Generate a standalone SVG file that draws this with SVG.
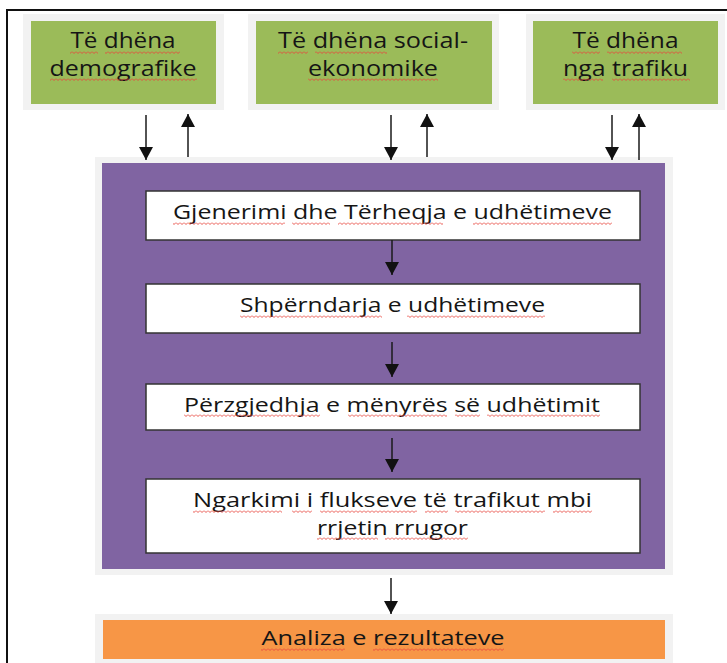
<svg xmlns="http://www.w3.org/2000/svg" width="727" height="663" viewBox="0 0 727 663">
<style>
.halo{fill:#F2F2F2}
.green{fill:#9BBB59}
.purple{fill:#8064A2}
.orange{fill:#F79646}
.wbox{fill:#FFFFFF;stroke:#333333;stroke-width:1.5}
.t{font-family:"Open Sans","Liberation Sans",sans-serif;fill:#151515;text-anchor:middle}
.tg{font-size:21.5px}
.tw{font-size:20px}
.sq{fill:url(#squig)}
.conn line{stroke:#1a1a1a;stroke-width:1.5;fill:none}
</style>
<defs>
<pattern id="squig" patternUnits="userSpaceOnUse" width="4" height="3">
<path d="M0 0.5 L2 2.5 L4 0.5" fill="none" stroke="#E8453C" stroke-width="0.9"/>
</pattern>
<marker id="ah" markerUnits="userSpaceOnUse" markerWidth="14" markerHeight="14" viewBox="0 0 14 14" refX="13" refY="7" orient="auto">
<path d="M0 0 L13 7 L0 14 Z" fill="#111"/>
</marker>
</defs>
<rect width="727" height="663" fill="#FFFFFF"/>
<path d="M7 670 V10 H735" fill="none" stroke="#111" stroke-width="2"/>

<g id="demografike">
<rect class="halo" x="23" y="14" width="201" height="96"/>
<rect class="green" x="31" y="21" width="185" height="83"/>
<text class="t tg" x="123" y="48" textLength="105" lengthAdjust="spacingAndGlyphs">Të dhëna</text>
<text class="t tg" x="123" y="76" textLength="147" lengthAdjust="spacingAndGlyphs">demografike</text>
<rect class="sq" x="70" y="51" width="28" height="3"/>
<rect class="sq" x="105" y="51" width="75" height="3"/>
<rect class="sq" x="50" y="78" width="147" height="3"/>
</g>

<g id="socialekonomike">
<rect class="halo" x="248" y="14" width="251" height="96"/>
<rect class="green" x="256" y="21" width="236" height="83"/>
<text class="t tg" x="373" y="48" textLength="190" lengthAdjust="spacingAndGlyphs">Të dhëna social-</text>
<text class="t tg" x="373" y="76" textLength="130" lengthAdjust="spacingAndGlyphs">ekonomike</text>
<rect class="sq" x="278" y="51" width="30" height="3"/>
<rect class="sq" x="315" y="51" width="72" height="3"/>
<rect class="sq" x="308" y="78" width="130" height="3"/>
</g>

<g id="trafiku">
<rect class="halo" x="526" y="14" width="199" height="96"/>
<rect class="green" x="533" y="21" width="185" height="83"/>
<text class="t tg" x="625.5" y="48" textLength="106" lengthAdjust="spacingAndGlyphs">Të dhëna</text>
<text class="t tg" x="625.5" y="76" textLength="125" lengthAdjust="spacingAndGlyphs">nga trafiku</text>
<rect class="sq" x="572" y="51" width="28" height="3"/>
<rect class="sq" x="607" y="51" width="75" height="3"/>
<rect class="sq" x="563" y="78" width="40" height="3"/>
<rect class="sq" x="612" y="78" width="78" height="3"/>
</g>

<g id="modeli">
<rect class="halo" x="95" y="157" width="578" height="418"/>
<rect class="purple" x="102" y="163" width="563" height="406"/>
</g>

<g id="gjenerimi">
<rect class="wbox" x="146" y="191" width="494" height="49"/>
<text class="t tw" x="392.5" y="219" textLength="439" lengthAdjust="spacingAndGlyphs">Gjenerimi dhe Tërheqja e udhëtimeve</text>
<rect class="sq" x="173" y="222" width="112" height="3"/>
<rect class="sq" x="292" y="222" width="38" height="3"/>
<rect class="sq" x="338" y="222" width="105" height="3"/>
<rect class="sq" x="473" y="222" width="139" height="3"/>
</g>

<g id="shperndarja">
<rect class="wbox" x="146" y="284" width="494" height="49"/>
<text class="t tw" x="392.5" y="312" textLength="305" lengthAdjust="spacingAndGlyphs">Shpërndarja e udhëtimeve</text>
<rect class="sq" x="240" y="315" width="142" height="3"/>
<rect class="sq" x="407" y="315" width="138" height="3"/>
</g>

<g id="perzgjedhja">
<rect class="wbox" x="146" y="384" width="494" height="46"/>
<text class="t tw" x="392" y="412" textLength="416" lengthAdjust="spacingAndGlyphs">Përzgjedhja e mënyrës së udhëtimit</text>
<rect class="sq" x="184" y="414" width="136" height="3"/>
<rect class="sq" x="348" y="414" width="99" height="3"/>
<rect class="sq" x="455" y="414" width="25" height="3"/>
<rect class="sq" x="487" y="414" width="113" height="3"/>
</g>

<g id="ngarkimi">
<rect class="wbox" x="146" y="479" width="494" height="74"/>
<text class="t tw" x="392.5" y="507" textLength="399" lengthAdjust="spacingAndGlyphs">Ngarkimi i flukseve të trafikut mbi</text>
<text class="t tw" x="392.5" y="535" textLength="151" lengthAdjust="spacingAndGlyphs">rrjetin rrugor</text>
<rect class="sq" x="193" y="510" width="89" height="3"/>
<rect class="sq" x="292" y="510" width="20" height="3"/>
<rect class="sq" x="320" y="510" width="97" height="3"/>
<rect class="sq" x="425" y="510" width="23" height="3"/>
<rect class="sq" x="455" y="510" width="90" height="3"/>
<rect class="sq" x="553" y="510" width="39" height="3"/>
<rect class="sq" x="317" y="537" width="61" height="3"/>
<rect class="sq" x="385" y="537" width="83" height="3"/>
</g>

<g id="analiza">
<rect class="halo" x="95" y="614" width="578" height="52"/>
<rect class="orange" x="103" y="620" width="562" height="39"/>
<text class="t tw" x="383" y="645" textLength="243" lengthAdjust="spacingAndGlyphs">Analiza e rezultateve</text>
<rect class="sq" x="261" y="648" width="84" height="3"/>
<rect class="sq" x="373" y="648" width="131" height="3"/>
</g>

<g id="connectors" class="conn">
<line x1="146" y1="115" x2="146" y2="160" marker-end="url(#ah)"/>
<line x1="188" y1="157" x2="188" y2="114" marker-end="url(#ah)"/>
<line x1="391" y1="115" x2="391" y2="160" marker-end="url(#ah)"/>
<line x1="427" y1="157" x2="427" y2="114" marker-end="url(#ah)"/>
<line x1="612" y1="115" x2="612" y2="160" marker-end="url(#ah)"/>
<line x1="639" y1="160" x2="639" y2="114" marker-end="url(#ah)"/>
<line x1="392" y1="240" x2="392" y2="275" marker-end="url(#ah)"/>
<line x1="392" y1="342" x2="392" y2="377" marker-end="url(#ah)"/>
<line x1="392" y1="438" x2="392" y2="472" marker-end="url(#ah)"/>
<line x1="391" y1="578" x2="391" y2="614" marker-end="url(#ah)"/>
</g>
</svg>
